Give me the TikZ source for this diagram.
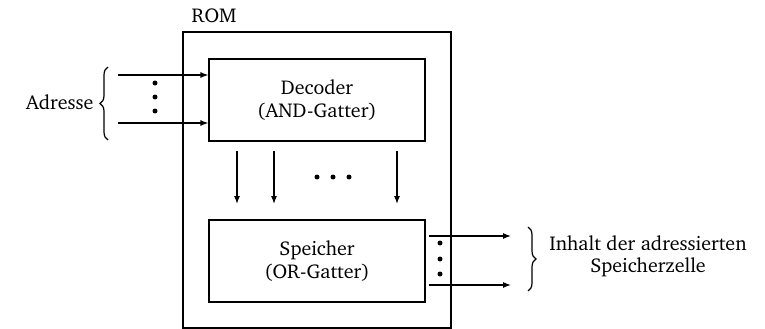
\documentclass[tikz,border=0pt]{standalone}
\usepackage[T1]{fontenc}
\usepackage{charter}
\usetikzlibrary{arrows.meta,positioning,calc,decorations.pathreplacing}

\begin{document}
\begin{tikzpicture}[
  x=1pt, y=-1pt,
  font=\fontsize{20}{23}\selectfont,
  box/.style  = {draw, line width=1.2pt, inner sep=0pt, align=center},
  ln/.style   = {-{Latex[length=8pt,width=6pt]}, line width=1.2pt},
  dot/.style  = {circle, fill, inner sep=0pt, minimum size=5pt},
  brc/.style  = {decorate, decoration={brace, amplitude=8pt}, line width=1.2pt},
]
\useasboundingbox (0,0) rectangle (765,329);

% --- the ROM and its two blocks ---------------------------------------------------------------------
\node[box, minimum width=268pt, minimum height=296pt] (rom) at (317,180) {};
\node[above right=8pt and 9pt of rom.north west, anchor=south west, inner sep=0pt] (romlbl) {ROM};
\node[box, minimum width=216pt, minimum height=82pt] (dec) at (317,100) {Decoder\\(AND-Gatter)};
\node[box, minimum width=216pt, minimum height=82pt] (mem) at (317,261) {Speicher\\(OR-Gatter)};

% --- address lines in ----------------------------------------------------------------------------------
\coordinate (in1) at (118,75);
\coordinate (in2) at (118,123);
\draw[ln] (in1) -- (dec.west |- in1);
\draw[ln] (in2) -- (dec.west |- in2);
\foreach \y in {83,97,111} \node[dot] at (155,\y) {};
\draw[brc] (108,140) -- (108,67);
\node[anchor=east] (adr) at (97,102) {Adresse};

% --- decoder to memory ---------------------------------------------------------------------------------
\foreach \x [count=\i] in {237,274,397} {
  \coordinate (s\i) at (\x,151);
  \coordinate (e\i) at (\x,204);
  \draw[ln] (s\i) -- (e\i);
}
\foreach \x in {317,333,349} \node[dot] at (\x,177) {};

% --- content out ----------------------------------------------------------------------------------------
\coordinate (out1) at (511,236);
\coordinate (out2) at (511,285);
\draw[ln] (mem.east |- out1) ++(3,0) -- (out1);
\draw[ln] (mem.east |- out2) ++(3,0) -- (out2);
\foreach \y in {243,259,274} \node[dot] at (440,\y) {};
\draw[brc] (528,227) -- (528,291);
\node[align=center] (inh) at (648,256) {Inhalt der adressierten\\[-1pt]Speicherzelle};

\end{tikzpicture}
\end{document}
